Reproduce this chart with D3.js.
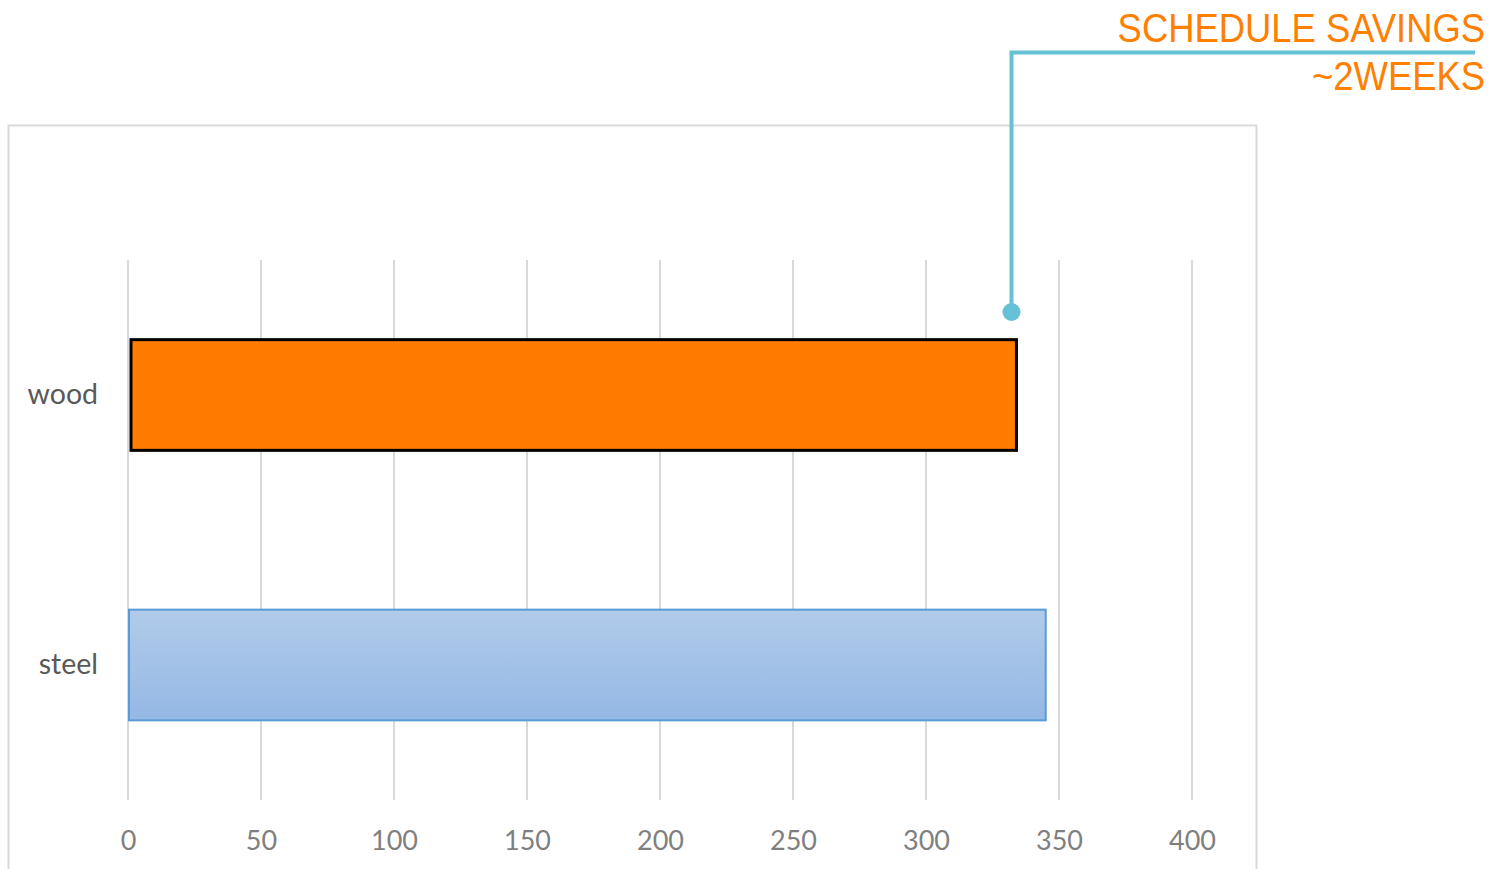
<!DOCTYPE html>
<html lang="en">
<head>
    <meta charset="UTF-8">
    <title>Schedule savings</title>
    <style>
        body { margin: 0; background: #fff; }
        svg { display: block; }
    </style>
</head>
<body>
    <svg width="1504" height="869"></svg>
    <script src="https://d3js.org/d3.v7.min.js"></script>
    <script>
        // data
        const categories = ["wood", "steel"];
        const values = [334, 345];
        const tickValues = [0, 50, 100, 150, 200, 250, 300, 350, 400];
        const noteLines = ["SCHEDULE SAVINGS", "~2WEEKS"];

        const svg = d3.select("svg");

        const x = d3.scaleLinear().domain([0, 400]).range([128, 1192]);
        const y = d3.scaleBand().domain(categories).range([260, 800])
            .paddingInner(0.59).paddingOuter(0.295);

        // chart frame
        svg.append("path")
            .attr("d", "M8.5,869 V125.5 H1256.5 V869")
            .attr("fill", "none")
            .attr("stroke", "#d9d9d9")
            .attr("stroke-width", 2);

        // gridlines
        svg.append("g")
            .selectAll("line")
            .data(tickValues)
            .join("line")
            .attr("x1", d => x(d)).attr("x2", d => x(d))
            .attr("y1", 260).attr("y2", 800)
            .attr("stroke", "#d9d9d9")
            .attr("stroke-width", 2);

        // x axis labels
        const xAxis = d3.axisBottom(x).tickValues(tickValues).tickSize(0).tickPadding(0);
        svg.append("g")
            .attr("transform", "translate(0,831)")
            .call(xAxis)
            .call(g => g.select(".domain").remove())
            .selectAll("text")
            .attr("font-family", "Lato, 'Open Sans', sans-serif")
            .attr("font-size", 27)
            .attr("fill", "#7f7f7f");

        // y axis labels
        const yAxis = d3.axisLeft(y).tickSize(0).tickPadding(0);
        svg.append("g")
            .attr("transform", "translate(98,0)")
            .call(yAxis)
            .call(g => g.select(".domain").remove())
            .selectAll("text")
            .attr("font-family", "Lato, 'Open Sans', sans-serif")
            .attr("font-size", 28.5)
            .attr("fill", "#595959");

        const defs = svg.append("defs");
        const grad = defs.append("linearGradient")
            .attr("id", "steelGrad")
            .attr("x1", 0).attr("y1", 0).attr("x2", 0).attr("y2", 1);
        grad.append("stop").attr("offset", "0%").attr("stop-color", "#b1cbea");
        grad.append("stop").attr("offset", "100%").attr("stop-color", "#94b8e4");

        const fills = ["#ff7c00", "url(#steelGrad)"];
        const strokes = ["#000", "#5b9bd5"];
        const widths = [3, 2];

        svg.append("g")
            .selectAll("rect")
            .data(categories)
            .join("rect")
            .attr("x", (d, i) => x(0) + (i === 0 ? 3 : 1))
            .attr("y", d => y(d))
            .attr("width", (d, i) => x(values[i]) - x(0) - (i === 0 ? 3 : 1))
            .attr("height", y.bandwidth())
            .attr("fill", (d, i) => fills[i])
            .attr("stroke", (d, i) => strokes[i])
            .attr("stroke-width", (d, i) => widths[i]);

        // annotation callout
        const note = svg.append("g");
        note.append("path")
            .attr("d", `M1011.5,312 V52.5 H1475`)
            .attr("fill", "none")
            .attr("stroke", "#65c1d4")
            .attr("stroke-width", 4);
        note.append("circle")
            .attr("cx", 1011.5).attr("cy", 312).attr("r", 9)
            .attr("fill", "#65c1d4");

        // narrow the Arial-like face a little to fit the original width
        note.selectAll("text")
            .data(noteLines)
            .join("text")
            .attr("transform", (d, i) => `translate(1485,${42 + i * 48}) scale(0.91,1)`)
            .attr("text-anchor", "end")
            .attr("font-family", "'Liberation Sans', Arial, sans-serif")
            .attr("font-size", 40)
            .attr("fill", "#ff7f00")
            .text(d => d);
    </script>
</body>
</html>
